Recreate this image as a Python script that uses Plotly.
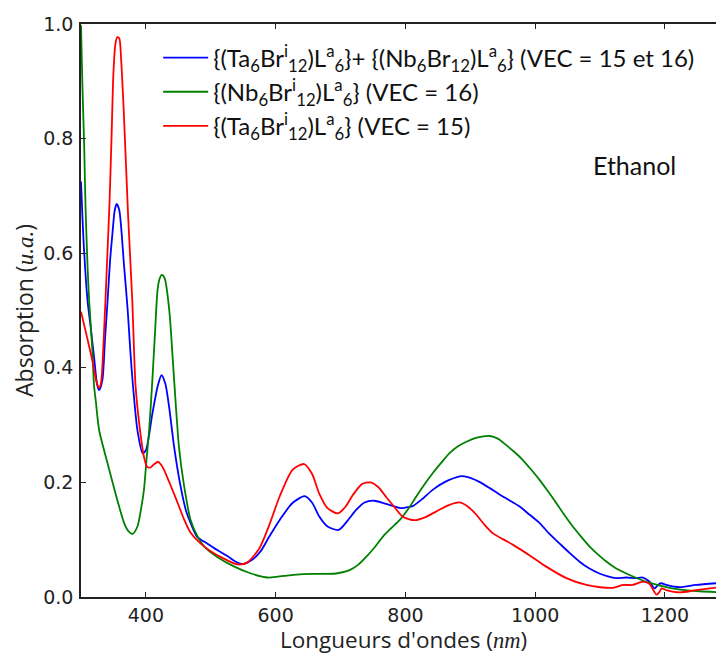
import plotly.graph_objects as go

# ---- data ----
wl_red = [300, 310, 318, 324, 328, 331, 335, 340, 344, 347, 350, 353, 356, 359, 362, 366, 372.5, 379, 384, 390,
          397, 402, 407, 413, 419, 424, 428, 438, 449, 459, 469, 490, 515, 541, 556, 575, 590, 606, 626, 644,
          656, 667, 680, 696, 708, 719, 733, 746, 758, 770, 783, 796, 814, 830, 847, 866, 883, 896, 909, 922,
          935, 950, 966, 991, 1017, 1048, 1079, 1100, 1120, 1135, 1150, 1166, 1176, 1182, 1187, 1191, 1195,
          1202, 1223, 1248, 1291]
abs_red = [0.498, 0.45, 0.41, 0.375, 0.365, 0.375, 0.45, 0.58, 0.69, 0.80, 0.915, 0.965, 0.977, 0.975, 0.935,
           0.845, 0.668, 0.518, 0.37, 0.30, 0.245, 0.227, 0.226, 0.232, 0.236, 0.23, 0.222, 0.195, 0.164, 0.135,
           0.112, 0.088, 0.070, 0.057, 0.060, 0.085, 0.125, 0.175, 0.222, 0.232, 0.215, 0.181, 0.155, 0.146,
           0.158, 0.178, 0.197, 0.200, 0.192, 0.175, 0.157, 0.140, 0.134, 0.139, 0.149, 0.160, 0.165, 0.158,
           0.144, 0.126, 0.111, 0.101, 0.091, 0.073, 0.053, 0.033, 0.021, 0.017, 0.016, 0.021, 0.021, 0.027,
           0.023, 0.012, 0.004, 0.008, 0.015, 0.012, 0.008, 0.012, 0.018]

wl_blue = [300, 304, 310, 315, 320, 325, 328, 333, 337, 341, 345, 348.5, 352, 355, 359, 366.5, 372, 376, 380,
           387, 395, 400, 410, 418, 424, 430, 436, 443.5, 453.5, 462, 469, 479, 495, 510, 525, 541, 551, 565,
           577, 590, 606, 626, 644.5, 656, 667.5, 680, 697, 710, 724, 737, 752, 766, 780, 794, 805, 812, 827,
           842, 865, 888, 900, 914, 930, 945, 960, 976, 991, 1007, 1022, 1037, 1053, 1068, 1083, 1099, 1112,
           1125, 1140, 1155, 1166, 1176, 1184, 1190, 1194.5, 1202, 1223, 1248, 1291]
abs_blue = [0.725, 0.62, 0.518, 0.47, 0.42, 0.37, 0.361, 0.379, 0.45, 0.518, 0.59, 0.635, 0.675, 0.686, 0.675,
            0.576, 0.50, 0.43, 0.37, 0.291, 0.251, 0.256, 0.32, 0.367, 0.387, 0.372, 0.33, 0.262, 0.193, 0.15,
            0.129, 0.105, 0.093, 0.082, 0.072, 0.060, 0.058, 0.066, 0.080, 0.105, 0.134, 0.164, 0.176, 0.165,
            0.140, 0.123, 0.117, 0.132, 0.152, 0.165, 0.168, 0.164, 0.159, 0.155, 0.157, 0.159, 0.172, 0.187,
            0.203, 0.211, 0.208, 0.201, 0.19, 0.179, 0.169, 0.158, 0.144, 0.129, 0.11, 0.094, 0.077, 0.062,
            0.050, 0.041, 0.036, 0.033, 0.034, 0.033, 0.034, 0.027, 0.015, 0.022, 0.024, 0.021, 0.017, 0.021,
            0.025]

wl_green = [300, 302, 305, 307, 310, 312.5, 317.5, 320, 323, 328, 341, 356, 366.5, 373, 379.5, 387, 392, 397,
            401, 405, 410, 414, 418, 421, 424.5, 429, 436, 443.5, 451, 459, 469, 480, 490, 510, 536.5, 562, 588,
            606, 642, 693, 714, 727, 739.5, 752, 765, 778, 791, 804, 816.5, 829, 842, 855, 868, 881, 894, 910,
            930, 943, 955.5, 968, 981, 994, 1007, 1020, 1032.5, 1045, 1058, 1071, 1084, 1097, 1109.5, 1122,
            1135, 1148, 1161, 1176, 1192, 1223, 1254, 1291]
abs_green = [0.998, 0.90, 0.783, 0.68, 0.58, 0.518, 0.431, 0.37, 0.34, 0.291, 0.233, 0.169, 0.129, 0.115, 0.110,
             0.123, 0.15, 0.187, 0.24, 0.291, 0.379, 0.46, 0.536, 0.555, 0.562, 0.556, 0.501, 0.379, 0.262,
             0.193, 0.134, 0.105, 0.088, 0.070, 0.053, 0.041, 0.034, 0.036, 0.040, 0.041, 0.047, 0.056, 0.070,
             0.086, 0.105, 0.120, 0.134, 0.153, 0.175, 0.196, 0.216, 0.234, 0.251, 0.263, 0.271, 0.278, 0.281,
             0.276, 0.265, 0.253, 0.239, 0.222, 0.204, 0.184, 0.164, 0.143, 0.123, 0.105, 0.088, 0.074, 0.062,
             0.052, 0.044, 0.037, 0.031, 0.025, 0.020, 0.013, 0.010, 0.008]

name_blue = ("{(Ta<sub>6</sub>Br<sup>i</sup><sub>12</sub>)L<sup>a</sup><sub>6</sub>}+ "
             "{(Nb<sub>6</sub>Br<sub>12</sub>)L<sup>a</sup><sub>6</sub>} (VEC = 15 et 16)")
name_green = "{(Nb<sub>6</sub>Br<sup>i</sup><sub>12</sub>)L<sup>a</sup><sub>6</sub>} (VEC = 16)"
name_red = "{(Ta<sub>6</sub>Br<sup>i</sup><sub>12</sub>)L<sup>a</sup><sub>6</sub>} (VEC = 15)"

x_title = "Longueurs d'ondes (<i><span style='font-family:Liberation Serif'>nm</span></i>)"
y_title = "Absorption (<i><span style='font-family:Liberation Serif'>u.a.</span></i>)"

x_ticks = [400, 600, 800, 1000, 1200]
y_ticks = [0.0, 0.2, 0.4, 0.6, 0.8, 1.0]

fig = go.Figure()
for wl, ab, nm, col in [(wl_blue, abs_blue, name_blue, "#0000ff"),
                        (wl_green, abs_green, name_green, "#008000"),
                        (wl_red, abs_red, name_red, "#ff0000")]:
    fig.add_trace(go.Scatter(x=wl, y=ab, name=nm, mode="lines",
                             line=dict(color=col, width=1.8, shape="spline", smoothing=0.7)))

fig.add_annotation(text="Ethanol", x=0.861, y=0.754, xref="paper", yref="paper",
                   xanchor="center", yanchor="middle",
                   showarrow=False, font=dict(family="Lato", size=25, color="#111"))

# x-axis title placed as an annotation so it can sit slightly lower than plotly's margin limit
fig.add_annotation(text=x_title, x=0.502, y=-0.074, xref="paper", yref="paper",
                   xanchor="center", yanchor="middle", showarrow=False,
                   font=dict(family="Open Sans", size=22.5, color="#222"))

axis_common = dict(showgrid=False, zeroline=False, showline=True, linecolor="#222", linewidth=1.5,
                   ticks="inside", ticklen=5, tickwidth=1, tickcolor="#222", automargin=False,
                   tickfont=dict(family="DejaVu Sans", size=19, color="#222"))

fig.update_xaxes(range=[300, 1291], tickvals=x_ticks, mirror="ticks", ticklabelstandoff=0,
                 **axis_common)
fig.update_yaxes(range=[0, 1.0], tickvals=y_ticks, tickformat=".1f", ticklabelstandoff=2,
                 title=dict(text=y_title,
                            font=dict(family="Open Sans", size=23, color="#222"), standoff=15),
                 **axis_common)

# the page adds an 8 px body margin, so the figure is made 8 px smaller on each side
fig.update_layout(
    width=716, height=646,
    margin=dict(l=73, r=0, t=16, b=57),
    paper_bgcolor="white", plot_bgcolor="white",
    showlegend=True,
    legend=dict(x=0.12, y=0.98, xanchor="left", yanchor="top", bgcolor="rgba(0,0,0,0)",
                itemwidth=45,
                font=dict(family="Lato", size=24, color="#111"), tracegroupgap=0),
)

fig.write_html("out.html")
